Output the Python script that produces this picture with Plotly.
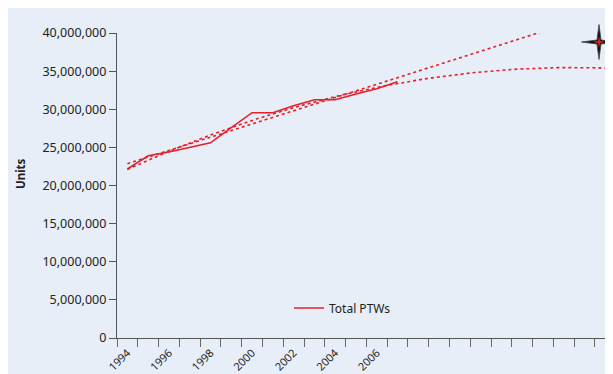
import numpy as np
import plotly.graph_objects as go

# ---- data ----
years = list(range(1994, 2008))
total_ptws = [22160000, 23900000, 24400000, 24980000, 25600000, 27600000, 29550000,
              29550000, 30470000, 31250000, 31250000, 32000000, 32700000, 33600000]
label_years = [1994, 1996, 1998, 2000, 2002, 2004, 2006]
y_ticks = [0, 5000000, 10000000, 15000000, 20000000, 25000000, 30000000, 35000000, 40000000]
forecast_end = 2017

OFF = 8                      # page body margin
W, H = 605, 366
ML, MR, MT, MB = 109, 0, 25, 36
PW, PH = W - ML - MR, H - MT - MB
YEAR_PX = 20.78
x0 = 1993.5
x1 = x0 + PW / YEAR_PX

def px(xp):                  # page pixel -> paper x
    return (xp - OFF - ML) / PW

def py(yp):                  # page pixel -> paper y
    return (H - MB - (yp - OFF)) / PH

def star_path(cx, cy, arm, waist):
    pts = [(0, -arm), (waist, -waist), (arm, 0), (waist, waist),
           (0, arm), (-waist, waist), (-arm, 0), (-waist, -waist)]
    return "M " + " L ".join(f"{px(cx + dx):.5f},{py(cy + dy):.5f}" for dx, dy in pts) + " Z"

RED = "#e4202c"
BG = "#e7eef8"

idx = np.arange(len(years))
lin = np.polyfit(idx, total_ptws, 1)   # linear trendline
p2 = np.polyfit(idx, total_ptws, 2)    # polynomial (order 2) trendline
tx = np.linspace(0, forecast_end - years[0], 100)

fig = go.Figure()
fig.add_trace(go.Scatter(x=years[0] + tx, y=np.polyval(lin, tx), mode="lines",
                         line=dict(color=RED, width=1.6, dash="dot"), showlegend=False, hoverinfo="skip"))
fig.add_trace(go.Scatter(x=years[0] + tx, y=np.polyval(p2, tx), mode="lines",
                         line=dict(color=RED, width=1.6, dash="dot"), showlegend=False, hoverinfo="skip"))
fig.add_trace(go.Scatter(x=years, y=total_ptws, mode="lines", name="Total PTWs",
                         line=dict(color=RED, width=1.6)))

fig.update_layout(
    width=W, height=H,
    margin=dict(l=ML, r=MR, t=MT, b=MB),
    paper_bgcolor=BG, plot_bgcolor=BG,
    font=dict(family="Noto Sans", size=12, color="#222"),
    legend=dict(x=px(289), y=py(308), xanchor="left", yanchor="middle",
                bgcolor="rgba(0,0,0,0)", font=dict(size=12, color="#222")),
    xaxis=dict(range=[x0, x1], tickmode="array", tickvals=label_years,
               ticktext=[str(v) for v in label_years], tickangle=-45, ticks="",
               ticklabelstandoff=3, automargin=False, tickfont=dict(size=11),
               showline=True, linecolor="#555", linewidth=1.3, showgrid=False, zeroline=False,
               minor=dict(ticks="outside", ticklen=8, tick0=x0, dtick=1, tickcolor="#666",
                          tickwidth=1.2, showgrid=False)),
    yaxis=dict(range=[0, 40000000], tickmode="array", tickvals=y_ticks, tickformat=",d",
               ticks="outside", ticklen=7, tickcolor="#555", tickwidth=1.2, automargin=False,
               tickfont=dict(size=12.5),
               showline=True, linecolor="#555", linewidth=1.3, showgrid=False, zeroline=False),
    annotations=[dict(text="<b>Units</b>", x=px(20), y=py(174), xref="paper", yref="paper",
                      xanchor="center", yanchor="middle",
                      textangle=-90, showarrow=False, font=dict(size=11.5, color="#222"))],
    shapes=[
        dict(type="path", xref="paper", yref="paper", path=star_path(599, 42, 17.5, 2.0),
             fillcolor="#111", line=dict(color="#444", width=0.8)),
        dict(type="path", xref="paper", yref="paper", path=star_path(599, 42, 6, 1.0),
             fillcolor=RED, line=dict(width=0)),
    ],
)

fig.write_html("out.html")
